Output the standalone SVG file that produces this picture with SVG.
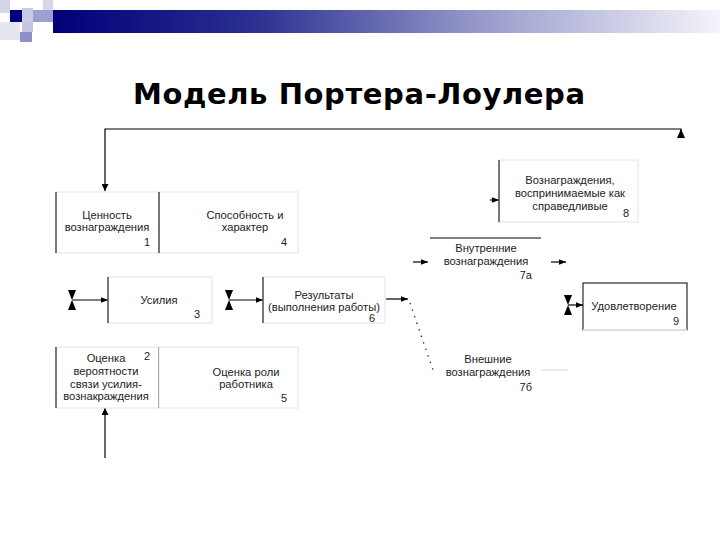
<svg xmlns="http://www.w3.org/2000/svg" width="720" height="540" viewBox="0 0 720 540">
<defs>
<linearGradient id="bar" x1="0" y1="0" x2="1" y2="0">
<stop offset="0" stop-color="#000078"/>
<stop offset="0.3" stop-color="#2a2f90"/>
<stop offset="0.65" stop-color="#9a9dcc"/>
<stop offset="1" stop-color="#f4f4fa"/>
</linearGradient>
<marker id="ah" viewBox="0 0 10 10" refX="10" refY="5" markerWidth="8" markerHeight="7" markerUnits="userSpaceOnUse" orient="auto">
<path d="M0,0 L10,5 L0,10 z" fill="#000"/>
</marker>
<marker id="ahs" viewBox="0 0 10 10" refX="10" refY="5" markerWidth="9" markerHeight="7" markerUnits="userSpaceOnUse" orient="auto">
<path d="M0,1 L10,5 L0,9 z" fill="#000"/>
</marker>
</defs>
<style>
.t{font-family:"Liberation Sans",Arial,sans-serif;font-size:11.2px;fill:#222;text-anchor:middle}
.n{font-family:"Liberation Sans",Arial,sans-serif;font-size:11px;fill:#222;text-anchor:end}
.title{font-family:"DejaVu Sans",Verdana,sans-serif;font-weight:bold;font-size:29px;fill:#000;text-anchor:middle}
.frame{fill:#fff;stroke:#e2e2e2;stroke-width:1}
.edge{stroke:#000;stroke-width:1;fill:none}
.ln{stroke:#000;stroke-width:1.2;fill:none}
.bt{fill:#000}
</style>
<rect width="720" height="540" fill="#fff"/>
<g id="header">
<rect x="53" y="10" width="667" height="23" fill="url(#bar)"/>
<rect x="0" y="0" width="10" height="13" fill="#d4d5ea"/>
<rect x="0" y="22" width="20" height="18" fill="#e6e6f3"/>
<rect x="10" y="10" width="12" height="12" fill="#000080"/>
<rect x="22" y="8" width="11" height="14" fill="#c9cae6"/>
<rect x="33" y="10" width="20" height="12" fill="#9d9fcf"/>
<rect x="43" y="0" width="10" height="10" fill="#d6d7ec"/>
<rect x="20" y="32" width="12" height="10" fill="#8f91c6"/>
<rect x="22" y="22" width="11" height="10" fill="#c4c5e3"/>
</g>
<text class="title" x="359" y="104" textLength="452" lengthAdjust="spacing">Модель Портера-Лоулера</text>
<g id="connectors">
<path class="ln" d="M681,138 L681,129 L105,129 L105,191" marker-end="url(#ah)"/>
<polygon class="bt" points="677,138 685,138 681,129"/>
<path class="ln" d="M105,458 L105,408" marker-end="url(#ah)"/>
<polygon class="bt" points="68,290 76,290 72,300"/>
<polygon class="bt" points="68,310 76,310 72,300"/>
<path class="ln" d="M72,300 L108,300" marker-end="url(#ahs)"/>
<polygon class="bt" points="225,290 233,290 229,300"/>
<polygon class="bt" points="225,310 233,310 229,300"/>
<path class="ln" d="M229,300 L263,300" marker-end="url(#ahs)"/>
<path class="ln" d="M386,299 L408,299" marker-end="url(#ahs)"/>
<path d="M410,303 L434,373" stroke="#333" stroke-width="1.4" stroke-dasharray="1.4,5.5" fill="none"/>
<path class="ln" d="M490,200 L499,200" marker-end="url(#ahs)"/>
<path class="ln" d="M413,262 L428,262" marker-end="url(#ahs)"/>
<path class="ln" d="M551,262 L566,262" marker-end="url(#ahs)"/>
<polygon class="bt" points="564,295 572,295 568,305"/>
<polygon class="bt" points="564,315 572,315 568,305"/>
<path class="ln" d="M568,305 L583,305" marker-end="url(#ahs)"/>
<path d="M541,370 L568,370" stroke="#d8d8d8" stroke-width="1"/>
</g>
<g id="n1">
<rect class="frame" x="56" y="192" width="103" height="61"/>
<line class="edge" x1="56" y1="192" x2="56" y2="253"/>
<text class="t" x="107" y="219">Ценность</text>
<text class="t" x="107" y="231">вознаграждения</text>
<text class="n" x="150" y="246">1</text>
</g>
<g id="n4">
<rect class="frame" x="159" y="192" width="139" height="61"/>
<line class="edge" x1="159" y1="192" x2="159" y2="253"/>
<text class="t" x="245" y="219">Способность и</text>
<text class="t" x="245" y="231">характер</text>
<text class="n" x="287" y="246">4</text>
</g>
<g id="n3">
<rect class="frame" x="108" y="277" width="104" height="46"/>
<line class="edge" x1="108" y1="277" x2="108" y2="323"/>
<text class="t" x="159" y="304">Усилия</text>
<text class="n" x="200" y="318">3</text>
</g>
<g id="n6">
<rect class="frame" x="263" y="277" width="122" height="46"/>
<line class="edge" x1="263" y1="277" x2="263" y2="323"/>
<text class="t" x="324" y="299">Результаты</text>
<text class="t" x="324" y="311">(выполнения работы)</text>
<text class="n" x="375" y="322">6</text>
</g>
<g id="n2">
<rect class="frame" x="56" y="347" width="103" height="61"/>
<line class="edge" x1="56" y1="347" x2="56" y2="408"/>
<line class="edge" x1="159" y1="347" x2="159" y2="408"/>
<text class="t" x="106" y="362">Оценка</text>
<text class="n" x="150" y="360">2</text>
<text class="t" x="106" y="375">вероятности</text>
<text class="t" x="106" y="388">связи усилия-</text>
<text class="t" x="106" y="400">вознакраждения</text>
</g>
<g id="n5">
<rect class="frame" x="159" y="347" width="139" height="61"/>
<text class="t" x="246" y="376">Оценка роли</text>
<text class="t" x="246" y="388">работника</text>
<text class="n" x="287" y="402">5</text>
</g>
<g id="n8">
<rect class="frame" x="499" y="160" width="139" height="62"/>
<line class="edge" x1="499" y1="160" x2="499" y2="222"/>
<text class="t" x="570" y="184">Вознаграждения,</text>
<text class="t" x="570" y="197">воспринимаемые как</text>
<text class="t" x="570" y="210">справедливые</text>
<text class="n" x="629" y="217">8</text>
</g>
<g id="n7a">
<line class="edge" x1="430" y1="238" x2="541" y2="238"/>
<text class="t" x="486" y="252">Внутренние</text>
<text class="t" x="486" y="265">вознаграждения</text>
<text class="n" x="532" y="279">7а</text>
</g>
<g id="n7b">
<text class="t" x="488" y="363">Внешние</text>
<text class="t" x="488" y="376">вознаграждения</text>
<text class="n" x="532" y="391">7б</text>
</g>
<g id="n9">
<rect x="583" y="283" width="104" height="47" fill="#fff" stroke="#000" stroke-width="1"/>
<line x1="583" y1="330" x2="687" y2="330" stroke="#fff" stroke-width="1.5"/>
<text class="t" x="634" y="310">Удовлетворение</text>
<text class="n" x="679" y="325">9</text>
</g>
</svg>
